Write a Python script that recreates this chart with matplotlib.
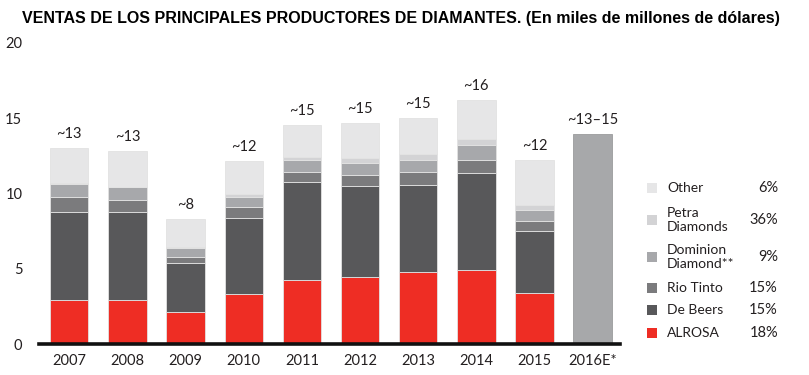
import matplotlib
matplotlib.use("Agg")
import matplotlib.pyplot as plt
from matplotlib.patches import Rectangle
import numpy as np

years = ["2007", "2008", "2009", "2010", "2011", "2012", "2013", "2014", "2015"]
alrosa = [2.9, 2.9, 2.1, 3.3, 4.25, 4.45, 4.8, 4.9, 3.4]
de_beers = [5.9, 5.9, 3.25, 5.1, 6.5, 6.05, 5.75, 6.45, 4.1]
rio_tinto = [1.0, 0.8, 0.4, 0.7, 0.7, 0.75, 0.85, 0.9, 0.65]
dominion = [0.85, 0.8, 0.65, 0.7, 0.75, 0.75, 0.8, 0.95, 0.75]
petra = [0.05, 0.05, 0.05, 0.2, 0.25, 0.35, 0.4, 0.45, 0.35]
other = [2.35, 2.4, 1.85, 2.15, 2.1, 2.35, 2.4, 2.55, 3.0]
top_labels = ["~13", "~13", "~8", "~12", "~15", "~15", "~15", "~16", "~12"]

est_year = "2016E*"
est_value = 13.95
est_label = "~13\u201315"

legend_names = ["Other", "Petra\nDiamonds", "Dominion\nDiamond**", "Rio Tinto", "De Beers", "ALROSA"]
legend_pcts = ["6%", "36%", "9%", "15%", "15%", "18%"]

colors = {
    "alrosa": "#EE2D24",
    "de_beers": "#58585A",
    "rio_tinto": "#7B7B7D",
    "dominion": "#A7A8AB",
    "petra": "#D3D3D5",
    "other": "#E6E6E7",
}
est_color = "#A7A8AA"
text_color = "#231F20"
font = ["Lato", "DejaVu Sans"]

W, H = 809, 375
fig = plt.figure(figsize=(W / 100, H / 100), dpi=100)
ax = fig.add_axes([39 / W, 1 - 344 / H, (620 - 39) / W, (344 - 43) / H])

x = np.arange(len(years))
bw = 0.66
series = [alrosa, de_beers, rio_tinto, dominion, petra, other]
keys = ["alrosa", "de_beers", "rio_tinto", "dominion", "petra", "other"]
bottom = np.zeros(len(years))
for vals, k in zip(series, keys):
    ax.bar(x, vals, bw, bottom=bottom, color=colors[k], edgecolor="#E2E2E2", linewidth=0.6)
    bottom += np.array(vals)

for xi, tot, lab in zip(x, bottom, top_labels):
    ax.text(xi, tot + 0.45, lab, ha="center", va="bottom", fontsize=10.5,
            color=text_color, family=font)

xe = len(years)
ax.bar([xe], [est_value], bw, color=est_color, edgecolor="#9A9B9D", linewidth=0.6)
ax.text(xe, est_value + 0.45, est_label, ha="center", va="bottom", fontsize=10.5,
        color=text_color, family=font)

ax.set_xlim(-0.52, 9.47)
ax.set_ylim(0, 20)
ax.set_yticks([0, 5, 10, 15, 20])
ax.set_xticks(list(x) + [xe])
ax.set_xticklabels(years + [est_year])
ax.tick_params(axis="both", length=0, labelsize=10.5, colors=text_color)
ax.tick_params(axis="y", pad=12)
ax.tick_params(axis="x", pad=7)
for lbl in ax.get_xticklabels() + ax.get_yticklabels():
    lbl.set_family(font)
for s in ax.spines.values():
    s.set_visible(False)
ax.axhline(0, color="#111111", lw=2.6, clip_on=False, zorder=5)

fig.text(401 / W, 1 - 18 / H,
         "VENTAS DE LOS PRINCIPALES PRODUCTORES DE DIAMANTES. (En miles de millones de d\u00f3lares)",
         ha="center", va="center", fontsize=11.5, fontweight="bold",
         family=["Liberation Sans Narrow", "Liberation Sans", "DejaVu Sans"], color="black")

leg_colors = [colors["other"], colors["petra"], colors["dominion"], colors["rio_tinto"],
              colors["de_beers"], colors["alrosa"]]
leg_y = [188, 220, 257, 288, 310, 333]
for name, pct, c, yy in zip(legend_names, legend_pcts, leg_colors, leg_y):
    fig.patches.append(Rectangle(((647) / W, 1 - (yy + 5) / H), 10 / W, 10 / H,
                                 transform=fig.transFigure, facecolor=c, edgecolor="none"))
    fig.text(667 / W, 1 - yy / H, name, ha="left", va="center", fontsize=10,
             color=text_color, family=font, linespacing=1.25)
    fig.text(778 / W, 1 - yy / H, pct, ha="right", va="center", fontsize=10.5,
             color=text_color, family=font)

fig.savefig("out.png", dpi=100)
